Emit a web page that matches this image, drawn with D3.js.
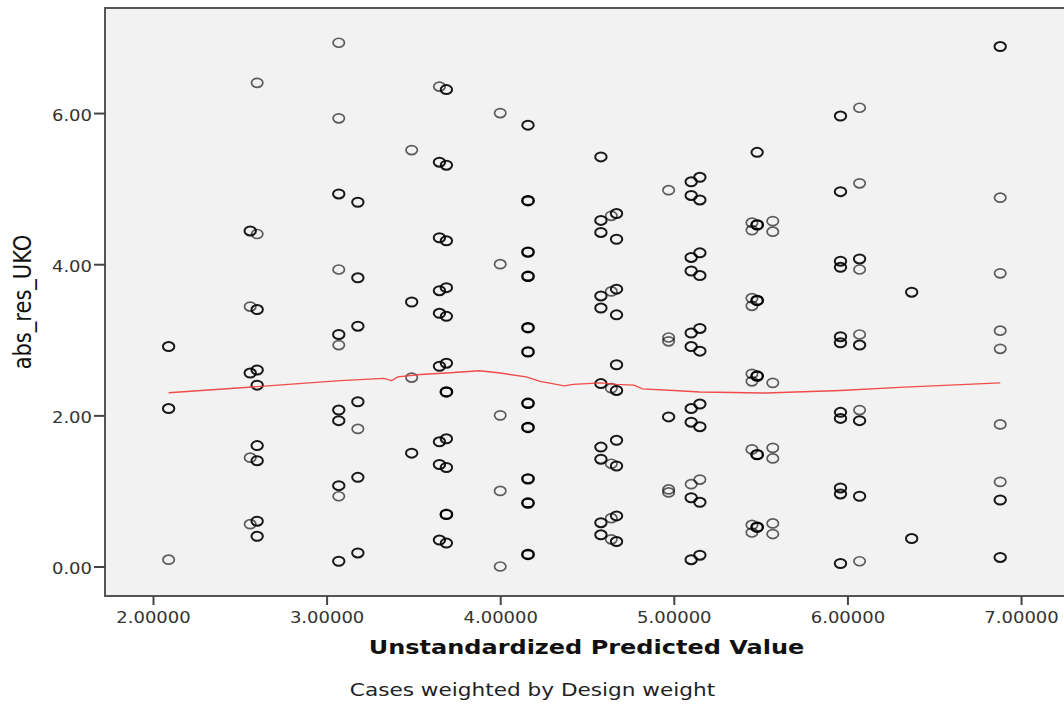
<!DOCTYPE html>
<html>
<head>
<meta charset="utf-8">
<script src="https://cdn.jsdelivr.net/npm/d3@7"></script>
<style>
  body { margin: 0; background: #fff; }
  text { font-family: "DejaVu Sans", sans-serif; }
</style>
</head>
<body>
<script>
// predicted values (one column of cases per value)
var predicted = [2.09, 2.56, 2.60, 3.07, 3.18, 3.49, 3.65, 3.69, 4.00, 4.16, 4.58, 4.64,
                 4.67, 4.97, 5.10, 5.15, 5.45, 5.48, 5.57, 5.96, 6.07, 6.37, 6.88];

// abs residuals in each column, [value, stacked cases]
var absRes = [
    [[2.91,2],[2.09,2],[0.09,1]],
    [[4.44,2],[3.44,1],[2.56,2],[1.44,1],[0.56,1]],
    [[6.40,1],[4.40,1],[3.40,2],[2.60,2],[2.40,2],[1.60,2],[1.40,2],[0.60,2],[0.40,2]],
    [[6.93,1],[5.93,1],[4.93,2],[3.93,1],[3.07,2],[2.93,1],[2.07,2],[1.93,2],[1.07,2],[0.93,1],[0.07,2]],
    [[4.82,2],[3.82,2],[3.18,2],[2.18,2],[1.82,1],[1.18,2],[0.18,2]],
    [[5.51,1],[3.50,2],[2.50,1],[1.50,2]],
    [[6.35,1],[5.35,2],[4.35,2],[3.65,2],[3.35,2],[2.65,2],[1.65,2],[1.35,2],[0.35,2]],
    [[6.31,2],[5.31,2],[4.31,2],[3.69,2],[3.31,2],[2.69,2],[2.31,3],[1.69,2],[1.31,2],[0.69,3],[0.31,2]],
    [[6.00,1],[4.00,1],[2.00,1],[1.00,1],[0.00,1]],
    [[5.84,2],[4.84,3],[4.16,3],[3.84,3],[3.16,3],[2.84,3],[2.16,3],[1.84,3],[1.16,3],[0.84,3],[0.16,3]],
    [[5.42,2],[4.58,2],[4.42,2],[3.58,2],[3.42,2],[2.42,2],[1.58,2],[1.42,2],[0.58,2],[0.42,2]],
    [[4.64,1],[3.64,1],[2.36,1],[1.36,1],[0.64,1],[0.36,1]],
    [[4.67,2],[4.33,2],[3.67,2],[3.33,2],[2.67,2],[2.33,2],[1.67,2],[1.33,2],[0.67,2],[0.33,2]],
    [[4.98,1],[3.03,1],[2.98,1],[1.98,2],[1.02,1],[0.98,1]],
    [[5.09,2],[4.91,2],[4.09,2],[3.91,2],[3.09,2],[2.91,2],[2.09,2],[1.91,2],[1.09,1],[0.91,2],[0.09,2]],
    [[5.15,2],[4.85,2],[4.15,2],[3.85,2],[3.15,2],[2.85,2],[2.15,2],[1.85,2],[1.15,1],[0.85,2],[0.15,2]],
    [[4.55,1],[4.45,1],[3.55,1],[3.45,1],[2.55,1],[2.45,1],[1.55,1],[0.55,1],[0.45,1]],
    [[5.48,2],[4.52,3],[3.52,3],[2.52,3],[1.48,3],[0.52,3]],
    [[4.57,1],[4.43,1],[2.43,1],[1.57,1],[1.43,1],[0.57,1],[0.43,1]],
    [[5.96,2],[4.96,2],[4.04,2],[3.96,2],[3.04,2],[2.96,2],[2.04,2],[1.96,2],[1.04,2],[0.96,2],[0.04,2]],
    [[6.07,1],[5.07,1],[4.07,2],[3.93,1],[3.07,1],[2.93,2],[2.07,1],[1.93,2],[0.93,2],[0.07,1]],
    [[3.63,2],[0.37,2]],
    [[6.88,2],[4.88,1],[3.88,1],[3.12,1],[2.88,1],[1.88,1],[1.12,1],[0.88,2],[0.12,2]]
];

// loess fit line
var loessX = [2.09, 2.60, 3.08, 3.33, 3.375, 3.41, 3.54, 3.69, 3.88, 4.00, 4.15, 4.23,
              4.37, 4.42, 4.58, 4.67, 4.77, 4.82, 5.00, 5.15, 5.53, 5.96, 6.30, 6.88];
var loessY = [2.30, 2.38, 2.46, 2.49, 2.46, 2.51, 2.54, 2.56, 2.59, 2.56, 2.51, 2.45,
              2.39, 2.41, 2.43, 2.41, 2.40, 2.35, 2.33, 2.31, 2.295, 2.33, 2.37, 2.43];

var xTicks = [2, 3, 4, 5, 6, 7];
var yTicks = [0, 2, 4, 6];

drawChart();

function drawChart() {
    var width = 1064, height = 705;
    var plotLeft = 105, plotRight = 1070, plotTop = 8, plotBottom = 596;
    var stretch = 1.2; // text in the picture is widened

    var svg = d3.select("body").append("svg")
        .attr("width", width)
        .attr("height", height);

    var x = d3.scaleLinear().domain([1.7235, 7.282]).range([plotLeft, plotRight]);
    var y = d3.scaleLinear().domain([-0.39, 7.39]).range([plotBottom, plotTop]);

    //plot frame
    svg.append("rect")
        .attr("x", plotLeft).attr("y", plotTop)
        .attr("width", plotRight - plotLeft).attr("height", plotBottom - plotTop)
        .attr("fill", "#f2f2f2")
        .attr("stroke", "#555")
        .attr("stroke-width", 2);

    //points
    var points = [];
    predicted.forEach(function(p, i) {
        absRes[i].forEach(function(r) { points.push({x: p, y: r[0], n: r[1]}); });
    });

    svg.append("g").selectAll("ellipse")
        .data(points)
        .enter()
        .append("ellipse")
        .attr("cx", function(d) { return x(d.x); })
        .attr("cy", function(d) { return y(d.y); })
        .attr("rx", 5.7)
        .attr("ry", 4.5)
        .attr("fill", "none")
        .attr("stroke", "#000")
        .attr("stroke-opacity", function(d) { return d.n == 1 ? 0.62 : (d.n == 2 ? 0.9 : 1); })
        .attr("stroke-width", function(d) { return d.n == 1 ? 1.7 : (d.n == 2 ? 2 : 2.4); });

    //fit line
    var line = d3.line()
        .x(function(d) { return x(d[0]); })
        .y(function(d) { return y(d[1]); });

    svg.append("path")
        .datum(d3.zip(loessX, loessY))
        .attr("d", line)
        .attr("fill", "none")
        .attr("stroke", "#f03a3a")
        .attr("stroke-opacity", 0.9)
        .attr("stroke-width", 1.4);

    //axes
    var xAxis = svg.append("g")
        .attr("transform", "translate(0," + plotBottom + ")")
        .call(d3.axisBottom(x).tickValues(xTicks).tickFormat(d3.format(".5f")).tickSize(9));
    xAxis.select(".domain").remove();
    xAxis.selectAll("line").attr("stroke", "#444").attr("stroke-width", 2);
    xAxis.selectAll("text")
        .attr("dy", null).attr("y", 26.7)
        .attr("fill", "#333")
        .style("font-size", "15px");

    var yAxis = svg.append("g")
        .attr("transform", "translate(" + plotLeft + ",0)")
        .call(d3.axisLeft(y).tickValues(yTicks).tickFormat(d3.format(".2f")).tickSize(11).tickPadding(2));
    yAxis.select(".domain").remove();
    yAxis.selectAll("line").attr("stroke", "#444").attr("stroke-width", 2);
    yAxis.selectAll("text")
        .attr("dy", null).attr("y", 7.4)
        .attr("fill", "#333")
        .style("font-size", "15px");

    //titles
    svg.append("text")
        .attr("x", 586.5).attr("y", 654.3)
        .attr("text-anchor", "middle")
        .style("font-size", "20px")
        .style("font-weight", "bold")
        .attr("fill", "#111")
        .text("Unstandardized Predicted Value");

    svg.append("text")
        .attr("x", 532.5).attr("y", 695.7)
        .attr("text-anchor", "middle")
        .style("font-size", "18px")
        .attr("fill", "#222")
        .text("Cases weighted by Design weight");

    svg.append("text")
        .attr("transform", "translate(31,302) scale(" + stretch + ",1) rotate(-90)")
        .attr("text-anchor", "middle")
        .style("font-size", "21px")
        .attr("fill", "#111")
        .text("abs_res_UKO")
        .classed("nostretch", true);

    //widen the horizontal texts like the picture
    svg.selectAll("text:not(.nostretch)").each(function() {
        var len = this.getComputedTextLength();
        d3.select(this)
            .attr("textLength", len * stretch)
            .attr("lengthAdjust", "spacingAndGlyphs");
    });
}
</script>
</body>
</html>
